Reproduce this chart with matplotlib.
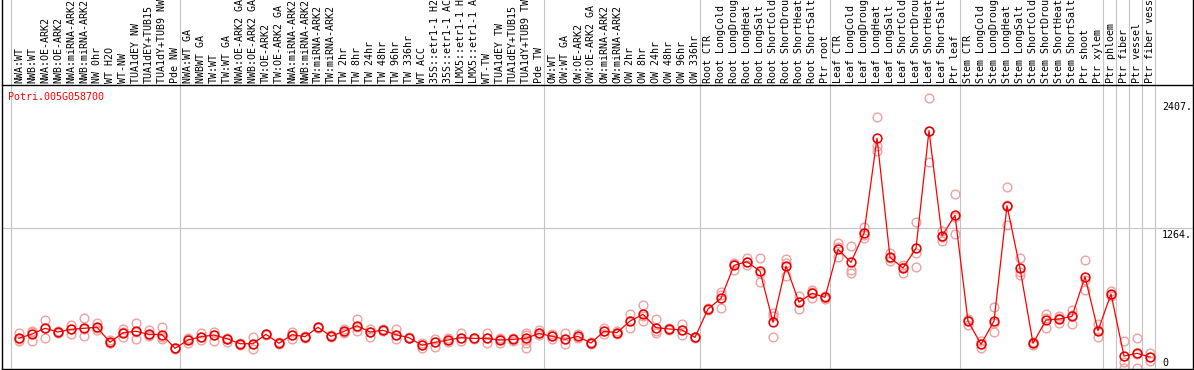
import matplotlib
matplotlib.use("Agg")
import matplotlib.pyplot as plt
import matplotlib.transforms as mtransforms
from matplotlib.lines import Line2D

gene = "Potri.005G058700"

samples = [
    "NWA:WT", "NWB:WT", "NWA:OE-ARK2", "NWB:OE-ARK2", "NWA:miRNA-ARK2", "NWB:miRNA-ARK2",
    "NW 0hr", "WT H2O", "WT-NW", "TUA1dEY NW", "TUA1dEY+TUB15", "TUA1dY+TUB9 NW", "Pde NW",
    "NWA:WT GA", "NWBWT GA", "TW:WT", "TW:WT GA", "NWA:OE-ARK2 GA", "NWB:OE-ARK2 GA",
    "TW:OE-ARK2", "TW:OE-ARK2 GA", "NWA:miRNA-ARK2", "NWB:miRNA-ARK2", "TW:miRNA-ARK2",
    "TW:miRNA-ARK2", "TW 2hr", "TW 8hr", "TW 24hr", "TW 48hr", "TW 96hr", "TW 336hr",
    "WT ACC", "35S::etr1-1 H2", "35S::etr1-1 AC", "LMX5::etr1-1 H", "LMX5::etr1-1 A",
    "WT-TW", "TUA1dEY TW", "TUA1dEY+TUB15", "TUA1dY+TUB9 TW", "Pde TW",
    "OW:WT", "OW:WT GA", "OW:OE-ARK2", "OW:OE-ARK2 GA", "OW:miRNA-ARK2", "OW:miRNA-ARK2",
    "OW 2hr", "OW 8hr", "OW 24hr", "OW 48hr", "OW 96hr", "OW 336hr",
    "Root CTR", "Root LongCold", "Root LongDroug", "Root LongHeat", "Root LongSalt",
    "Root ShortCold", "Root ShortDrou", "Root ShortHeat", "Root ShortSalt", "Ptr root",
    "Leaf CTR", "Leaf LongCold", "Leaf LongDroug", "Leaf LongHeat", "Leaf LongSalt",
    "Leaf ShortCold", "Leaf ShortDrou", "Leaf ShortHeat", "Leaf ShortSalt", "Ptr leaf",
    "Stem CTR", "Stem LongCold", "Stem LongDroug", "Stem LongHeat", "Stem LongSalt",
    "Stem ShortCold", "Stem ShortDrou", "Stem ShortHeat", "Stem ShortSalt", "Ptr shoot",
    "Ptr xylem", "Ptr phloem", "Ptr fiber", "Ptr vessel", "Ptr fiber vess",
]

mean_expr = [
    275, 313, 364, 331, 355, 364, 373, 239, 325, 337, 310, 307, 185,
    259, 289, 304, 271, 226, 226, 310, 230, 307, 289, 373, 292, 337, 387, 331, 346,
    307, 280, 212, 239, 259, 280, 274, 274, 259, 265, 274, 319,
    292, 265, 292, 232, 337, 325, 429, 489, 370, 358, 349, 283,
    537, 632, 927, 960, 874, 418, 921, 597, 677, 641,
    1071, 954, 1214, 2064, 999, 903, 1080, 2132, 1190, 1375,
    429, 221, 429, 1461, 901, 230, 438, 447, 471, 826, 343,
    671, 116, 140, 107,
]

rep_expr = [
    [319, 253, 270], [340, 253, 330], [435, 280, 370], [340, 320, 330], [394, 310, 355],
    [453, 298, 360], [414, 349, 370], [259, 230, 235], [358, 289, 330], [411, 266, 335],
    [349, 295, 300], [376, 266, 290], [190, 180, 185],
    [235, 265, 275], [325, 259, 290], [334, 250, 300], [280, 241, 270], [235, 212, 228],
    [283, 176, 220], [310, 305, 315], [240, 225, 230], [330, 270, 307], [295, 280, 290],
    [380, 365, 373], [300, 285, 292], [361, 320, 330], [444, 340, 380], [361, 283, 335],
    [355, 340, 346], [358, 266, 300], [285, 275, 280], [235, 188, 212], [271, 197, 245],
    [280, 240, 259], [319, 250, 275], [280, 268, 274], [319, 230, 274], [280, 230, 265],
    [280, 250, 265], [325, 305, 260, 230, 188], [349, 300, 319],
    [310, 270, 292], [319, 227, 265], [310, 275, 292], [240, 225, 232], [367, 310, 337],
    [340, 315, 325], [489, 370, 429], [572, 429, 470], [444, 325, 340], [370, 350, 358],
    [400, 304, 345], [290, 278, 283],
    [545, 530, 537], [689, 543, 665], [940, 886, 950], [990, 960, 930], [990, 775, 860],
    [498, 286, 470], [981, 832, 950], [656, 540, 597], [707, 638, 685], [650, 630, 641],
    [1124, 999, 1090], [1100, 886, 861], [1273, 1169, 1200], [2251, 1995, 1950],
    [1035, 967, 995], [930, 861, 915], [1312, 1035, 910], [2421, 1849, 2130],
    [1237, 1148, 1185], [1563, 1208, 1355],
    [440, 394, 450], [253, 191, 220], [552, 328, 410], [1631, 1285, 1470], [996, 841, 870],
    [245, 215, 230], [492, 364, 458], [470, 414, 455], [528, 400, 485], [972, 707, 800],
    [400, 283, 345],
    [700, 650, 665], [250, 65, 9], [275, 9, 136], [140, 74, 107],
]

# first sample index of every block of columns (last one = end)
group_starts = [0, 13, 41, 53, 63, 73, 84, 85, 86, 87, 88]
ytick_vals = [2407, 1264, 0]

W, H = 1194, 370
fig = plt.figure(figsize=(W / 100, H / 100), dpi=100)

# plot area in pixels
px_left, px_right, px_top, px_bottom = 1.5, 1193, 85, 368.5
ax = fig.add_axes([px_left / W, (H - px_bottom) / H,
                   (px_right - px_left) / W, (px_bottom - px_top) / H])

x = list(range(len(mean_expr)))
ax.set_xlim((px_left - 19) / 13, (px_right - 19) / 13)
ax.set_ylim(4.5, 2540)

grey = "#c4c4c4"
font = dict(family="DejaVu Sans Mono", size=7.2)

# block separators run through the header too
header_frac = 1 + (px_top - 0) / (px_bottom - px_top)
for g in group_starts:
    ax.axvline(g - 0.62, ymin=0, ymax=header_frac, color=grey, lw=0.8, clip_on=False, zorder=0)

ax.axhline(ytick_vals[1], color=grey, lw=0.8, zorder=0)

# replicates
for i, reps in enumerate(rep_expr):
    ax.plot([i] * len(reps), reps, "o", ms=6.3, mfc="none", mec="#f0a0a0", mew=1.0, zorder=2)

ax.plot(x, mean_expr, "-", color="#ff0000", lw=0.9, zorder=3)
ax.plot(x, mean_expr, "o", ms=6.3, mfc="none", mec="#e80000", mew=1.15, zorder=4)

for s in ["top", "bottom"]:
    ax.spines[s].set_linewidth(1.0)
for s in ["left", "right"]:
    ax.spines[s].set_visible(False)
ax.set_xticks([])
ax.set_yticks([])

# full-height outer borders
fig.add_artist(Line2D([px_left / W] * 2, [0, 1], color="black", lw=1.0))
fig.add_artist(Line2D([px_right / W] * 2, [0, 1], color="black", lw=1.0))

# sample names in the header
lab_tr = mtransforms.blended_transform_factory(ax.transData, fig.transFigure)
for i, name in enumerate(samples):
    ax.text(i, (H - 83) / H, name, transform=lab_tr, rotation=90,
            ha="center", va="bottom", clip_on=False, **font)

# gene name
fig.text(8 / W, (H - 97) / H, gene, color="#ff0000", ha="left", va="center", **font)

# value labels on the right
val_tr = mtransforms.blended_transform_factory(fig.transFigure, ax.transData)
for v in ytick_vals:
    if v == 0:
        off = mtransforms.offset_copy(val_tr, fig=fig, x=0, y=1.0, units="dots")
        ax.text(1162 / W, v, "0", transform=off, ha="left", va="bottom", clip_on=False, **font)
    else:
        off = mtransforms.offset_copy(val_tr, fig=fig, x=0, y=-2.0, units="dots")
        ax.text(1162 / W, v, f"{v}.", transform=off, ha="left", va="top", clip_on=False, **font)

fig.savefig("out.png", dpi=100)
